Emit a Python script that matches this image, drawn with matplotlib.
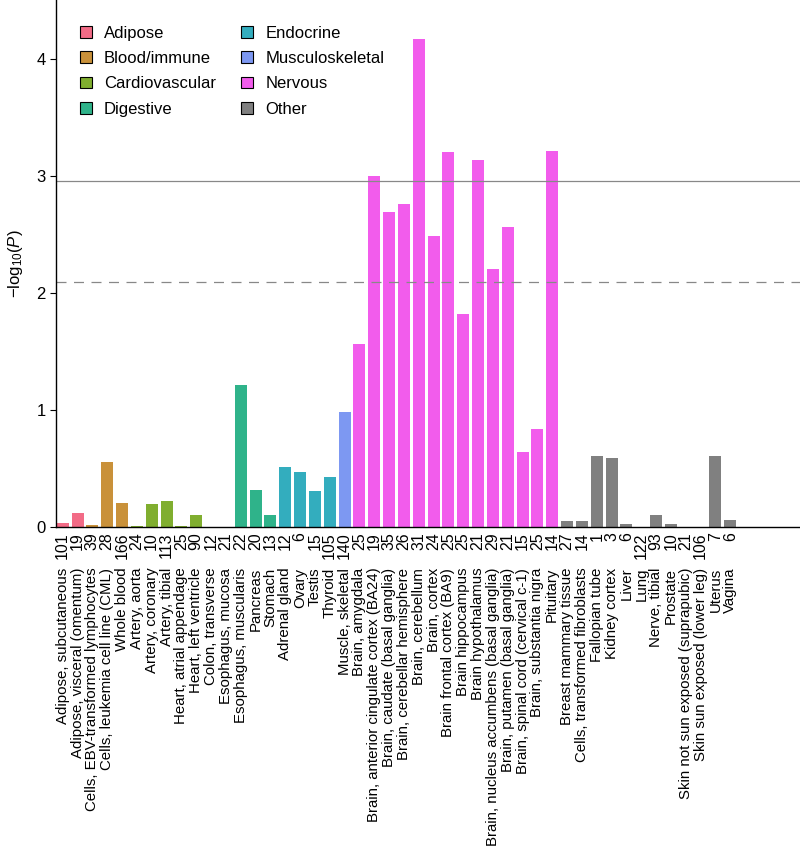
import matplotlib
matplotlib.use("Agg")
import matplotlib.pyplot as plt
import matplotlib.transforms as mtransforms
from matplotlib.patches import Patch

plt.rcParams["font.family"] = ["Liberation Sans", "DejaVu Sans"]
plt.rcParams["mathtext.fontset"] = "custom"
plt.rcParams["mathtext.rm"] = "Liberation Sans"
plt.rcParams["mathtext.it"] = "Liberation Sans:italic"

tissues = [
    "Adipose, subcutaneous", "Adipose, visceral (omentum)",
    "Cells, EBV-transformed lymphocytes", "Cells, leukemia cell line (CML)",
    "Whole blood", "Artery, aorta", "Artery, coronary", "Artery, tibial",
    "Heart, atrial appendage", "Heart, left ventricle", "Colon, transverse",
    "Esophagus, mucosa", "Esophagus, muscularis", "Pancreas", "Stomach",
    "Adrenal gland", "Ovary", "Testis", "Thyroid", "Muscle, skeletal",
    "Brain, amygdala", "Brain, anterior cingulate cortex (BA24)",
    "Brain, caudate (basal ganglia)", "Brain, cerebellar hemisphere",
    "Brain, cerebellum", "Brain, cortex", "Brain frontal cortex (BA9)",
    "Brain hippocampus", "Brain hypothalamus",
    "Brain, nucleus accumbens (basal ganglia)", "Brain, putamen (basal ganglia)",
    "Brain, spinal cord (cervical c-1)", "Brain, substantia nigra", "Pituitary",
    "Breast mammary tissue", "Cells, transformed fibroblasts", "Fallopian tube",
    "Kidney cortex", "Liver", "Lung", "Nerve, tibial", "Prostate",
    "Skin not sun exposed (suprapubic)", "Skin sun exposed (lower leg)",
    "Uterus", "Vagina",
]
counts = [101, 19, 39, 28, 166, 24, 10, 113, 25, 90, 12, 21, 22, 20, 13,
          12, 6, 15, 105, 140, 25, 19, 35, 26, 31, 24, 25, 25, 21, 29, 21,
          15, 25, 14, 27, 14, 1, 3, 6, 122, 93, 10, 21, 106, 7, 6]
neglogp = [0.03, 0.115, 0.015, 0.555, 0.20, 0.005, 0.19, 0.215, 0.008, 0.10,
           0.0, 0.0, 1.21, 0.31, 0.095, 0.51, 0.47, 0.305, 0.42, 0.98,
           1.56, 3.0, 2.69, 2.76, 4.17, 2.48, 3.20, 1.82, 3.13, 2.20, 2.56,
           0.635, 0.835, 3.21, 0.048, 0.048, 0.60, 0.59, 0.025, 0.0, 0.10,
           0.02, 0.0, 0.0, 0.60, 0.06]
systems = (["Adipose"] * 2 + ["Blood/immune"] * 3 + ["Cardiovascular"] * 5
           + ["Digestive"] * 5 + ["Endocrine"] * 4 + ["Musculoskeletal"]
           + ["Nervous"] * 14 + ["Other"] * 12)

system_names = ["Adipose", "Blood/immune", "Cardiovascular", "Digestive",
                "Endocrine", "Musculoskeletal", "Nervous", "Other"]
system_colors = ["#F26B86", "#C9913A", "#80AE2F", "#2FB38A",
                 "#33ADBE", "#7D98F2", "#F25CEC", "#808080"]
color_of = dict(zip(system_names, system_colors))

bonferroni = 2.95
fdr = 2.09

fig = plt.figure(figsize=(8.0, 8.48), dpi=100)
ax = fig.add_axes([0.07, 0.379, 0.93, 0.621])

x = list(range(len(tissues)))
ax.bar(x, neglogp, width=0.81, color=[color_of[s] for s in systems])
ax.axhline(bonferroni, color="#888888", lw=0.9)
ax.axhline(fdr, color="#888888", lw=0.9, ls=(0, (8, 6)))

ax.set_xlim(-0.45, 49.7)
ax.set_ylim(0, 4.5)
ax.set_yticks([0, 1, 2, 3, 4])
ax.tick_params(axis="y", labelsize=12, length=4, width=0.8)
ax.set_xticks(x)
ax.set_xticklabels([str(c) for c in counts], rotation=90, fontsize=11.5)
ax.tick_params(axis="x", length=0, pad=4)
ax.set_ylabel(r"$-$log$_{10}$($\it{P}$)", fontsize=12, labelpad=8)

for side in ["top", "right"]:
    ax.spines[side].set_visible(False)
for side in ["left", "bottom"]:
    ax.spines[side].set_linewidth(1.0)

trans = mtransforms.blended_transform_factory(ax.transData, ax.transAxes)
for xi, name in zip(x, tissues):
    ax.text(xi, -0.078, name, transform=trans, rotation=90, ha="center",
            va="top", fontsize=10.8)

handles = [Patch(facecolor=c, edgecolor="black", linewidth=0.8, label=n)
           for n, c in zip(system_names, system_colors)]
ax.legend(handles=handles, ncol=2, loc="upper left",
          bbox_to_anchor=(0.012, 0.98), frameon=False, fontsize=12,
          handlelength=0.7, handleheight=0.7, handletextpad=0.75,
          labelspacing=0.62, columnspacing=1.5)

fig.savefig("out.png", dpi=100)
